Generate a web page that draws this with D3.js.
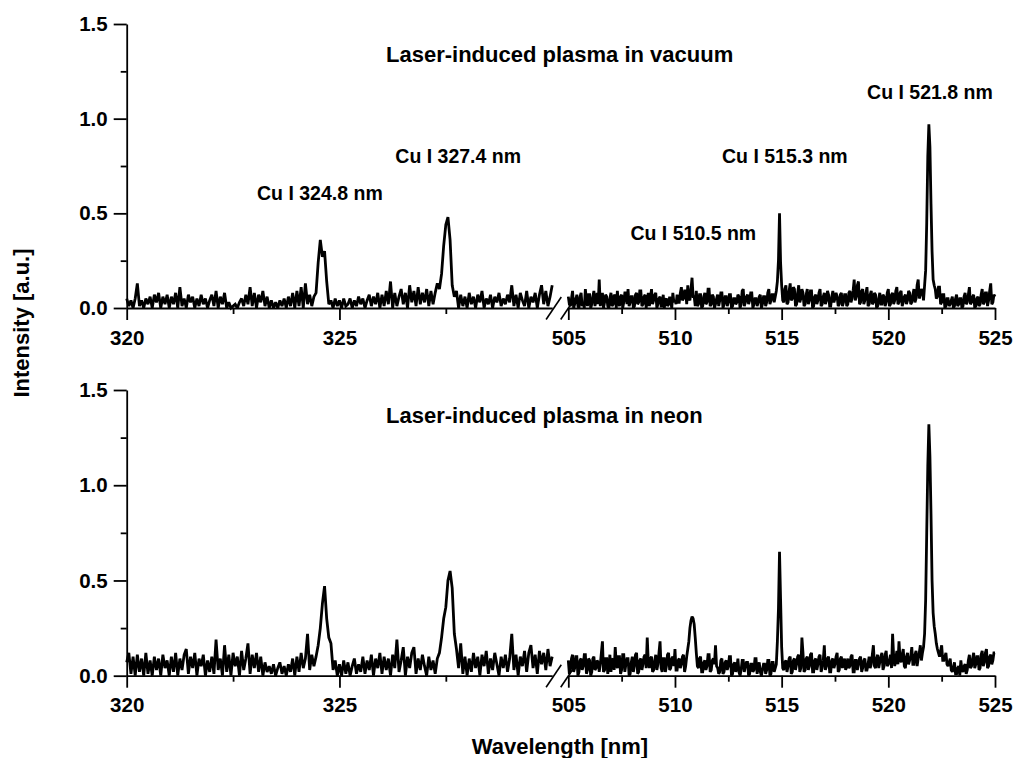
<!DOCTYPE html>
<html>
<head>
<meta charset="utf-8">
<script src="https://cdn.jsdelivr.net/npm/d3@7"></script>
<style>
  html, body { margin: 0; padding: 0; background: #fff; }
  svg { display: block; }
  text { font-family: "Liberation Sans", Arial, sans-serif; font-weight: bold; fill: #000; }
</style>
</head>
<body>
<svg id="chart" width="1015" height="758"></svg>
<script>
// ---------------- DATA ----------------
// sampling grids of the two wavelength windows (nm)
const leftStart = 320, leftStep = 0.05;    // 320 .. 330
const rightStart = 505, rightStep = 0.05;  // 505 .. 525

// Laser-induced plasma in vacuum, 320-330 nm
const vacuumLeft = [
  0.05,0.01,0.04,0.00,0.05,0.13,0.01,0.04,0.00,0.05,0.02,0.06,0.00,0.07,0.03,0.08,0.00,0.06,0.02,0.07,
  0.00,0.06,0.02,0.08,0.00,0.11,0.01,0.05,0.00,0.07,0.03,0.06,0.00,0.05,0.01,0.07,0.02,0.05,0.00,0.04,
  0.07,0.01,0.09,0.00,0.06,0.02,0.08,0.00,0.03,0.00,0.01,0.02,0.00,0.03,0.05,0.01,0.07,0.02,0.11,0.01,
  0.08,0.00,0.07,0.03,0.09,0.01,0.06,0.00,0.04,0.00,0.03,0.00,0.04,0.01,0.05,0.00,0.06,0.01,0.08,0.00,
  0.09,0.01,0.11,0.00,0.13,0.02,0.07,0.01,0.06,0.08,0.24,0.36,0.27,0.30,0.14,0.02,0.04,0.00,0.05,0.01,
  0.04,0.00,0.05,0.01,0.02,0.05,0.00,0.04,0.01,0.06,0.02,0.05,0.00,0.04,0.07,0.01,0.06,0.02,0.08,0.00,
  0.07,0.01,0.09,0.02,0.14,0.00,0.08,0.01,0.06,0.10,0.02,0.08,0.00,0.12,0.03,0.09,0.01,0.11,0.02,0.08,
  0.03,0.10,0.01,0.09,0.02,0.08,0.13,0.10,0.18,0.33,0.44,0.48,0.36,0.12,0.06,0.09,0.00,0.07,0.01,0.06,
  0.00,0.08,0.02,0.06,0.00,0.07,0.03,0.09,0.00,0.05,0.02,0.07,0.00,0.06,0.03,0.08,0.01,0.05,0.02,0.07,
  0.03,0.12,0.01,0.07,0.00,0.08,0.04,0.01,0.09,0.00,0.06,0.03,0.08,0.00,0.07,0.12,0.02,0.09,0.01,0.06,0.12
];
// Laser-induced plasma in vacuum, 505-525 nm
const vacuumRight = [
  0.06,0.02,0.01,0.05,0.09,0.00,0.02,0.04,0.07,0.01,0.00,0.06,0.08,0.01,0.03,0.00,0.10,0.04,0.01,0.07,
  0.07,0.00,0.02,0.06,0.09,0.01,0.04,0.08,0.02,0.15,0.01,0.05,0.08,0.00,0.03,0.07,0.06,0.01,0.00,0.05,
  0.08,0.01,0.02,0.07,0.06,0.00,0.09,0.03,0.01,0.06,0.07,0.00,0.03,0.08,0.08,0.02,0.10,0.01,0.03,0.06,
  0.06,0.00,0.01,0.07,0.08,0.02,0.03,0.09,0.09,0.01,0.02,0.06,0.07,0.00,0.04,0.08,0.01,0.05,0.10,0.02,
  0.04,0.07,0.08,0.00,0.02,0.05,0.06,0.01,0.01,0.07,0.00,0.04,0.05,0.01,0.02,0.06,0.03,0.00,0.08,0.03,
  0.04,0.02,0.07,0.03,0.03,0.08,0.11,0.04,0.05,0.09,0.09,0.02,0.12,0.05,0.04,0.10,0.16,0.06,0.06,0.01,
  0.09,0.01,0.02,0.07,0.07,0.00,0.01,0.06,0.08,0.02,0.03,0.10,0.10,0.01,0.02,0.07,0.06,0.00,0.02,0.05,
  0.07,0.01,0.04,0.08,0.08,0.00,0.02,0.06,0.06,0.01,0.03,0.07,0.07,0.00,0.01,0.05,0.05,0.02,0.03,0.07,
  0.06,0.00,0.02,0.09,0.10,0.01,0.03,0.06,0.07,0.02,0.04,0.08,0.08,0.00,0.02,0.05,0.05,0.01,0.03,0.06,
  0.07,0.00,0.02,0.06,0.06,0.01,0.03,0.08,0.10,0.02,0.04,0.07,0.07,0.03,0.06,0.09,0.14,0.25,0.50,0.24,
  0.12,0.04,0.03,0.10,0.12,0.02,0.03,0.09,0.13,0.04,0.05,0.11,0.10,0.01,0.02,0.08,0.12,0.03,0.05,0.10,
  0.08,0.01,0.02,0.07,0.10,0.02,0.04,0.09,0.09,0.00,0.01,0.06,0.07,0.02,0.04,0.08,0.10,0.01,0.02,0.06,
  0.08,0.02,0.04,0.09,0.07,0.01,0.01,0.06,0.09,0.03,0.05,0.08,0.06,0.01,0.02,0.07,0.08,0.01,0.03,0.07,
  0.07,0.01,0.02,0.08,0.09,0.03,0.05,0.09,0.15,0.04,0.06,0.12,0.14,0.02,0.03,0.09,0.10,0.02,0.04,0.08,
  0.11,0.01,0.02,0.07,0.09,0.02,0.03,0.08,0.07,0.00,0.01,0.05,0.08,0.02,0.02,0.07,0.06,0.01,0.03,0.08,
  0.10,0.01,0.02,0.07,0.08,0.02,0.04,0.09,0.11,0.02,0.03,0.08,0.09,0.01,0.03,0.06,0.07,0.02,0.04,0.09,
  0.08,0.02,0.03,0.07,0.10,0.03,0.05,0.12,0.15,0.05,0.07,0.10,0.09,0.04,0.12,0.20,0.45,0.80,0.97,0.85,
  0.55,0.30,0.15,0.12,0.10,0.05,0.06,0.11,0.11,0.02,0.03,0.07,0.07,0.00,0.01,0.05,0.05,0.01,0.02,0.04,
  0.06,0.00,0.01,0.05,0.07,0.01,0.02,0.05,0.05,0.00,0.01,0.06,0.08,0.02,0.03,0.07,0.11,0.02,0.03,0.06,
  0.07,0.00,0.01,0.05,0.06,0.01,0.02,0.07,0.10,0.02,0.03,0.08,0.08,0.01,0.04,0.09,0.13,0.02,0.03,0.07,
  0.06
];
// Laser-induced plasma in neon, 320-330 nm
const neonLeft = [
  0.07,0.12,0.01,0.10,0.00,0.11,0.02,0.09,0.00,0.12,0.01,0.08,0.00,0.10,0.03,0.09,0.00,0.11,0.04,0.08,
  0.00,0.10,0.02,0.12,0.00,0.09,0.03,0.11,0.14,0.01,0.10,0.04,0.12,0.00,0.09,0.05,0.11,0.00,0.08,0.02,
  0.10,0.01,0.19,0.03,0.09,0.00,0.16,0.02,0.11,0.00,0.12,0.05,0.10,0.00,0.13,0.03,0.09,0.17,0.01,0.11,
  0.04,0.12,0.02,0.10,0.00,0.07,0.02,0.05,0.01,0.06,0.00,0.04,0.07,0.01,0.05,0.00,0.06,0.02,0.09,0.00,
  0.10,0.02,0.12,0.04,0.09,0.22,0.03,0.11,0.05,0.10,0.16,0.25,0.38,0.47,0.30,0.20,0.17,0.03,0.08,0.00,
  0.06,0.00,0.08,0.01,0.07,0.00,0.05,0.09,0.01,0.06,0.02,0.10,0.01,0.08,0.03,0.11,0.00,0.09,0.04,0.12,
  0.01,0.10,0.03,0.09,0.00,0.11,0.04,0.19,0.02,0.08,0.15,0.00,0.10,0.04,0.12,0.15,0.01,0.09,0.03,0.11,
  0.05,0.00,0.10,0.03,0.08,0.01,0.09,0.12,0.20,0.30,0.36,0.50,0.55,0.46,0.22,0.14,0.04,0.17,0.01,0.10,
  0.00,0.09,0.02,0.12,0.04,0.10,0.00,0.11,0.05,0.13,0.01,0.09,0.03,0.12,0.06,0.00,0.10,0.04,0.11,0.02,
  0.09,0.22,0.03,0.11,0.00,0.10,0.05,0.13,0.02,0.12,0.16,0.04,0.11,0.01,0.13,0.06,0.12,0.03,0.14,0.05,0.10
];
// Laser-induced plasma in neon, 505-525 nm
const neonRight = [
  0.08,0.01,0.03,0.09,0.11,0.02,0.04,0.10,0.10,0.00,0.02,0.08,0.09,0.03,0.05,0.11,0.11,0.01,0.03,0.09,
  0.08,0.00,0.02,0.09,0.10,0.03,0.04,0.08,0.07,0.02,0.06,0.12,0.18,0.02,0.03,0.09,0.09,0.01,0.05,0.11,
  0.02,0.08,0.09,0.03,0.15,0.06,0.04,0.10,0.10,0.01,0.03,0.11,0.11,0.02,0.06,0.09,0.09,0.00,0.01,0.07,
  0.10,0.02,0.05,0.11,0.12,0.01,0.02,0.08,0.09,0.03,0.06,0.10,0.11,0.04,0.20,0.07,0.04,0.09,0.10,0.02,
  0.03,0.08,0.11,0.03,0.06,0.12,0.18,0.04,0.02,0.09,0.09,0.02,0.05,0.11,0.12,0.03,0.04,0.09,0.10,0.05,
  0.14,0.03,0.03,0.08,0.09,0.04,0.06,0.10,0.11,0.02,0.05,0.10,0.14,0.18,0.25,0.29,0.31,0.30,0.27,0.20,
  0.12,0.05,0.04,0.09,0.10,0.02,0.02,0.07,0.08,0.03,0.05,0.11,0.11,0.02,0.03,0.08,0.09,0.06,0.16,0.05,
  0.04,0.01,0.02,0.08,0.09,0.01,0.02,0.07,0.08,0.03,0.05,0.10,0.10,0.00,0.01,0.06,0.07,0.02,0.04,0.09,
  0.02,0.00,0.03,0.08,0.08,0.02,0.05,0.07,0.07,0.00,0.01,0.06,0.06,0.02,0.03,0.09,0.09,0.01,0.04,0.07,
  0.02,0.00,0.03,0.06,0.06,0.01,0.03,0.08,0.08,0.00,0.01,0.07,0.07,0.02,0.04,0.06,0.18,0.35,0.65,0.40,
  0.15,0.04,0.03,0.07,0.08,0.02,0.05,0.09,0.10,0.01,0.02,0.08,0.09,0.03,0.06,0.10,0.11,0.02,0.04,0.20,
  0.12,0.02,0.03,0.09,0.10,0.03,0.05,0.11,0.12,0.02,0.02,0.08,0.09,0.03,0.06,0.10,0.11,0.02,0.04,0.08,
  0.16,0.03,0.05,0.09,0.10,0.02,0.02,0.08,0.09,0.04,0.06,0.10,0.12,0.02,0.03,0.09,0.10,0.04,0.07,0.09,
  0.03,0.05,0.09,0.04,0.05,0.10,0.11,0.02,0.02,0.08,0.08,0.03,0.06,0.09,0.10,0.02,0.04,0.08,0.09,0.03,
  0.03,0.06,0.10,0.04,0.06,0.11,0.16,0.05,0.04,0.09,0.11,0.04,0.07,0.10,0.12,0.03,0.05,0.11,0.13,0.05,
  0.06,0.08,0.11,0.04,0.22,0.10,0.05,0.09,0.13,0.06,0.18,0.09,0.07,0.11,0.14,0.05,0.04,0.10,0.12,0.06,
  0.08,0.10,0.15,0.06,0.06,0.11,0.13,0.05,0.09,0.12,0.16,0.08,0.12,0.15,0.22,0.40,0.75,1.10,1.32,1.15,
  0.85,0.50,0.33,0.26,0.22,0.17,0.14,0.12,0.10,0.13,0.16,0.08,0.08,0.10,0.12,0.06,0.05,0.07,0.09,0.03,
  0.02,0.04,0.07,0.01,0.01,0.04,0.05,0.00,0.08,0.03,0.02,0.05,0.06,0.01,0.03,0.08,0.11,0.04,0.05,0.09,
  0.12,0.04,0.06,0.10,0.10,0.03,0.04,0.11,0.13,0.05,0.07,0.12,0.14,0.04,0.05,0.10,0.11,0.06,0.08,0.12,
  0.12
];

// axis ticks
const yMajorTicks = [0, 0.5, 1.0, 1.5];
const yMinorTicks = [0.25, 0.75, 1.25];
const xLeftMajor = [320, 325];
const xLeftMinor = [322.5, 327.5];
const xRightMajor = [505, 510, 515, 520, 525];
const xRightMinor = [507.5, 512.5, 517.5, 522.5];

// panel titles and line labels (label anchored at wavelength / intensity)
const panelTitles = ["Laser-induced plasma in vacuum", "Laser-induced plasma in neon"];
const lineLabels = ["Cu I 324.8 nm", "Cu I 327.4 nm", "Cu I 510.5 nm", "Cu I 515.3 nm", "Cu I 521.8 nm"];
const lineLabelSide = ["left", "left", "right", "right", "right"];
const lineLabelWl = [324.54, 327.79, 510.86, 515.15, 521.95];
const lineLabelInt = [0.570, 0.764, 0.359, 0.764, 1.104];

// ---------------- LAYOUT ----------------
const svg = d3.select("#chart");
const xL = d3.scaleLinear().domain([320, 330]).range([126.7, 552.2]);
const xR = d3.scaleLinear().domain([505, 525]).range([568.3, 995]);

const panels = [
  { left: vacuumLeft, right: vacuumRight, y0: 308, y1: 24, titleY: 61.7, labels: true },
  { left: neonLeft, right: neonRight, y0: 675.7, y1: 390, titleY: 423.3, labels: false }
];

const tickFont = "20.5px";
const AX_W = 1.8;

function styleAxis(g) {
  g.selectAll("path.domain").attr("stroke", "#000").attr("stroke-width", AX_W);
  g.selectAll(".tick line").attr("stroke", "#000").attr("stroke-width", AX_W);
  g.selectAll("text").style("font-size", tickFont).attr("fill", "#000");
}

panels.forEach((p, pi) => {
  const y = d3.scaleLinear().domain([0, 1.5]).range([p.y0, p.y1]);
  const g = svg.append("g");

  // y axis
  const ya = g.append("g").attr("transform", `translate(${xL(320)},0)`)
    .call(d3.axisLeft(y).tickValues(yMajorTicks).tickFormat(d3.format(".1f"))
      .tickSize(13).tickPadding(6).tickSizeOuter(0));
  styleAxis(ya);
  const ym = g.append("g").attr("transform", `translate(${xL(320)},0)`)
    .call(d3.axisLeft(y).tickValues(yMinorTicks).tickFormat("").tickSize(6));
  ym.select("path.domain").remove();
  styleAxis(ym);

  // x axes (broken)
  [[xL, xLeftMajor, xLeftMinor], [xR, xRightMajor, xRightMinor]].forEach(([xs, maj, min]) => {
    const xa = g.append("g").attr("transform", `translate(0,${p.y0})`)
      .call(d3.axisBottom(xs).tickValues(maj).tickFormat(d3.format("d"))
        .tickSize(12).tickPadding(10).tickSizeOuter(0));
    styleAxis(xa);
    const xm = g.append("g").attr("transform", `translate(0,${p.y0})`)
      .call(d3.axisBottom(xs).tickValues(min).tickFormat("").tickSize(6));
    xm.select("path.domain").remove();
    styleAxis(xm);
  });

  // break marks
  [xL(330) + 1.5, xR(505)].forEach(cx => {
    g.append("line")
      .attr("x1", cx - 7.6).attr("y1", p.y0 + 11.5)
      .attr("x2", cx + 7.6).attr("y2", p.y0 - 11)
      .attr("stroke", "#000").attr("stroke-width", 1.6);
  });

  // spectra
  const segs = [
    { xs: xL, start: leftStart, step: leftStep, vals: p.left },
    { xs: xR, start: rightStart, step: rightStep, vals: p.right }
  ];
  segs.forEach(s => {
    const pts = s.vals.map((v, i) => ({ wl: s.start + i * s.step, v }));
    const line = d3.line().x(d => s.xs(d.wl)).y(d => y(d.v));
    g.append("path").datum(pts)
      .attr("d", line)
      .attr("fill", "none")
      .attr("stroke", "#000")
      .attr("stroke-width", 2.8)
      .attr("stroke-linejoin", "miter")
      .attr("stroke-miterlimit", 2);
  });

  // panel title
  g.append("text").attr("x", 386).attr("y", p.titleY)
    .style("font-size", "22px").text(panelTitles[pi]);

  // line labels
  if (p.labels) {
    lineLabels.forEach((t, i) => {
      const xs = lineLabelSide[i] === "left" ? xL : xR;
      g.append("text")
        .attr("x", xs(lineLabelWl[i]))
        .attr("y", y(lineLabelInt[i]))
        .attr("text-anchor", "middle")
        .style("font-size", "19.5px")
        .text(t);
    });
  }
});

// axis titles
svg.append("text")
  .attr("transform", "translate(28.5,323) rotate(-90)")
  .attr("text-anchor", "middle")
  .style("font-size", "22px")
  .text("Intensity [a.u.]");

svg.append("text")
  .attr("x", 560).attr("y", 754)
  .attr("text-anchor", "middle")
  .style("font-size", "22px")
  .text("Wavelength [nm]");
</script>
</body>
</html>
